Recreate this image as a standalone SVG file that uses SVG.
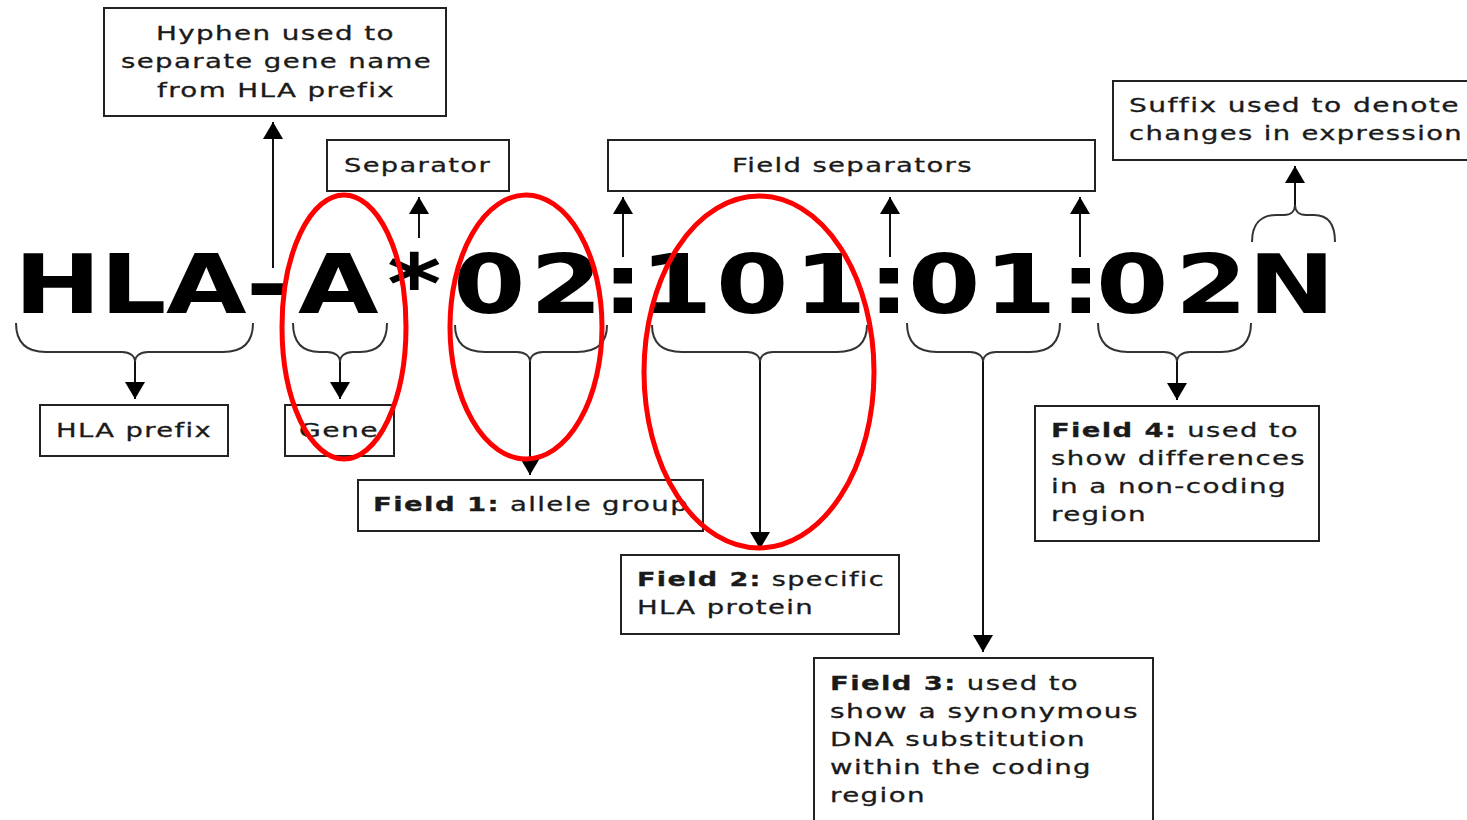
<svg xmlns="http://www.w3.org/2000/svg" width="1467" height="820" viewBox="0 0 1467 820">
<style>
.box{fill:#fff;stroke:#222;stroke-width:2}
.t{font-family:"DejaVu Sans","Liberation Sans",sans-serif;font-size:20px;fill:#1a1a1a;stroke:#1a1a1a;stroke-width:0.3;letter-spacing:1px}
.b{font-weight:bold}
.big{font-family:"DejaVu Sans","Liberation Sans",sans-serif;font-size:82px;font-weight:bold;fill:#000}
.ln{fill:none;stroke:#111;stroke-width:2}
.br{fill:none;stroke:#333;stroke-width:2}
.ov{fill:none;stroke:#ff0000;stroke-width:5}
</style>
<defs>
<marker id="ah" viewBox="0 0 17 20" refX="17" refY="10" markerWidth="17" markerHeight="20" markerUnits="userSpaceOnUse" orient="auto">
<path d="M0,0 L17,10 L0,20 Z" fill="#000"/>
</marker>
</defs>
<rect width="1467" height="820" fill="#fff"/>

<g id="code">
<text class="big" transform="scale(1.27,1)" y="313" x="11 78.7 130.7 193.7 234.6 304.7 356.7 417.3 474 503.9 563.8 625.2 683.5 715 774.8 834.6 863 925.2 982.7">HLA-A*02:101:01:02N</text>
</g>

<g id="hyphen-note">
<rect class="box" x="104" y="8" width="342" height="108"/>
<text class="t" x="156" y="40" textLength="239" lengthAdjust="spacingAndGlyphs">Hyphen used to</text>
<text class="t" x="121" y="68" textLength="311" lengthAdjust="spacingAndGlyphs">separate gene name</text>
<text class="t" x="157" y="97" textLength="238" lengthAdjust="spacingAndGlyphs">from HLA prefix</text>
</g>

<g id="separator">
<rect class="box" x="327" y="140" width="182" height="51"/>
<text class="t" x="344" y="172" textLength="147" lengthAdjust="spacingAndGlyphs">Separator</text>
</g>

<g id="field-separators">
<rect class="box" x="608" y="140" width="487" height="51"/>
<text class="t" x="732" y="172" textLength="241" lengthAdjust="spacingAndGlyphs">Field separators</text>
</g>

<g id="suffix">
<rect class="box" x="1113" y="81" width="360" height="79"/>
<text class="t" x="1129" y="112" textLength="331" lengthAdjust="spacingAndGlyphs">Suffix used to denote</text>
<text class="t" x="1129" y="140" textLength="334" lengthAdjust="spacingAndGlyphs">changes in expression</text>
</g>

<g id="hla-prefix">
<rect class="box" x="40" y="405" width="188" height="51"/>
<text class="t" x="56" y="437" textLength="156" lengthAdjust="spacingAndGlyphs">HLA prefix</text>
</g>

<g id="gene">
<rect class="box" x="285" y="405" width="109" height="51"/>
<text class="t" x="299" y="437" textLength="80" lengthAdjust="spacingAndGlyphs">Gene</text>
</g>

<g id="field1">
<rect class="box" x="358" y="480" width="345" height="51"/>
<text class="t" x="373" y="511" textLength="316" lengthAdjust="spacingAndGlyphs"><tspan class="b">Field 1:</tspan> allele group</text>
</g>

<g id="field2">
<rect class="box" x="621" y="555" width="278" height="79"/>
<text class="t" x="637" y="586" textLength="248" lengthAdjust="spacingAndGlyphs"><tspan class="b">Field 2:</tspan> specific</text>
<text class="t" x="637" y="614" textLength="177" lengthAdjust="spacingAndGlyphs">HLA protein</text>
</g>

<g id="field3">
<rect class="box" x="814" y="658" width="339" height="170"/>
<text class="t" x="830" y="690" textLength="249" lengthAdjust="spacingAndGlyphs"><tspan class="b">Field 3:</tspan> used to</text>
<text class="t" x="830" y="718" textLength="309" lengthAdjust="spacingAndGlyphs">show a synonymous</text>
<text class="t" x="830" y="746" textLength="256" lengthAdjust="spacingAndGlyphs">DNA substitution</text>
<text class="t" x="830" y="774" textLength="262" lengthAdjust="spacingAndGlyphs">within the coding</text>
<text class="t" x="830" y="802" textLength="96" lengthAdjust="spacingAndGlyphs">region</text>
</g>

<g id="field4">
<rect class="box" x="1035" y="406" width="284" height="135"/>
<text class="t" x="1051" y="437" textLength="248" lengthAdjust="spacingAndGlyphs"><tspan class="b">Field 4:</tspan> used to</text>
<text class="t" x="1051" y="465" textLength="255" lengthAdjust="spacingAndGlyphs">show differences</text>
<text class="t" x="1051" y="493" textLength="236" lengthAdjust="spacingAndGlyphs">in a non-coding</text>
<text class="t" x="1051" y="521" textLength="96" lengthAdjust="spacingAndGlyphs">region</text>
</g>

<g id="connectors">
<path class="br" d="M16,323 C16,343 26,352 46,352 L122,352 C130,352 135,356 135,362 C135,356 140,352 148,352 L223,352 C243,352 253,343 253,323"/>
<path class="br" d="M293,323 C293,343 303,352 320,352 L327,352 C335,352 340,356 340,362 C340,356 345,352 353,352 L360,352 C377,352 387,343 387,323"/>
<path class="br" d="M455,325 C455,343 465,352 485,352 L517,352 C525,352 530,356 530,362 C530,356 535,352 543,352 L577,352 C597,352 607,343 607,325"/>
<path class="br" d="M652,325 C652,343 662,352 682,352 L747,352 C755,352 760,356 760,362 C760,356 765,352 773,352 L837,352 C857,352 867,343 867,325"/>
<path class="br" d="M907,323 C907,343 917,352 937,352 L970,352 C978,352 983,356 983,362 C983,356 988,352 996,352 L1030,352 C1050,352 1060,343 1060,323"/>
<path class="br" d="M1098,323 C1098,343 1108,352 1128,352 L1164,352 C1172,352 1177,356 1177,362 C1177,356 1182,352 1190,352 L1221,352 C1241,352 1251,343 1251,323"/>
<path class="br" d="M1252,242 C1252,224 1261,215 1276,215 L1284,215 C1291,215 1295,211 1295,205 C1295,211 1299,215 1306,215 L1314,215 C1328,215 1335,224 1335,242"/>
<line class="ln" x1="135" y1="362" x2="135" y2="399" marker-end="url(#ah)"/>
<line class="ln" x1="340" y1="362" x2="340" y2="399" marker-end="url(#ah)"/>
<line class="ln" x1="530" y1="362" x2="530" y2="475" marker-end="url(#ah)"/>
<line class="ln" x1="760" y1="362" x2="760" y2="549" marker-end="url(#ah)"/>
<line class="ln" x1="983" y1="362" x2="983" y2="652" marker-end="url(#ah)"/>
<line class="ln" x1="1177" y1="362" x2="1177" y2="400" marker-end="url(#ah)"/>
<line class="ln" x1="273" y1="268" x2="273" y2="122" marker-end="url(#ah)"/>
<line class="ln" x1="419" y1="238" x2="419" y2="197" marker-end="url(#ah)"/>
<line class="ln" x1="623" y1="257" x2="623" y2="197" marker-end="url(#ah)"/>
<line class="ln" x1="890" y1="257" x2="890" y2="197" marker-end="url(#ah)"/>
<line class="ln" x1="1080" y1="257" x2="1080" y2="197" marker-end="url(#ah)"/>
<line class="ln" x1="1295" y1="205" x2="1295" y2="166" marker-end="url(#ah)"/>
</g>

<g id="highlights">
<ellipse class="ov" cx="344" cy="327" rx="62" ry="132"/>
<ellipse class="ov" cx="526" cy="327" rx="76" ry="132"/>
<ellipse class="ov" cx="759" cy="372" rx="115" ry="176"/>
</g>
</svg>
